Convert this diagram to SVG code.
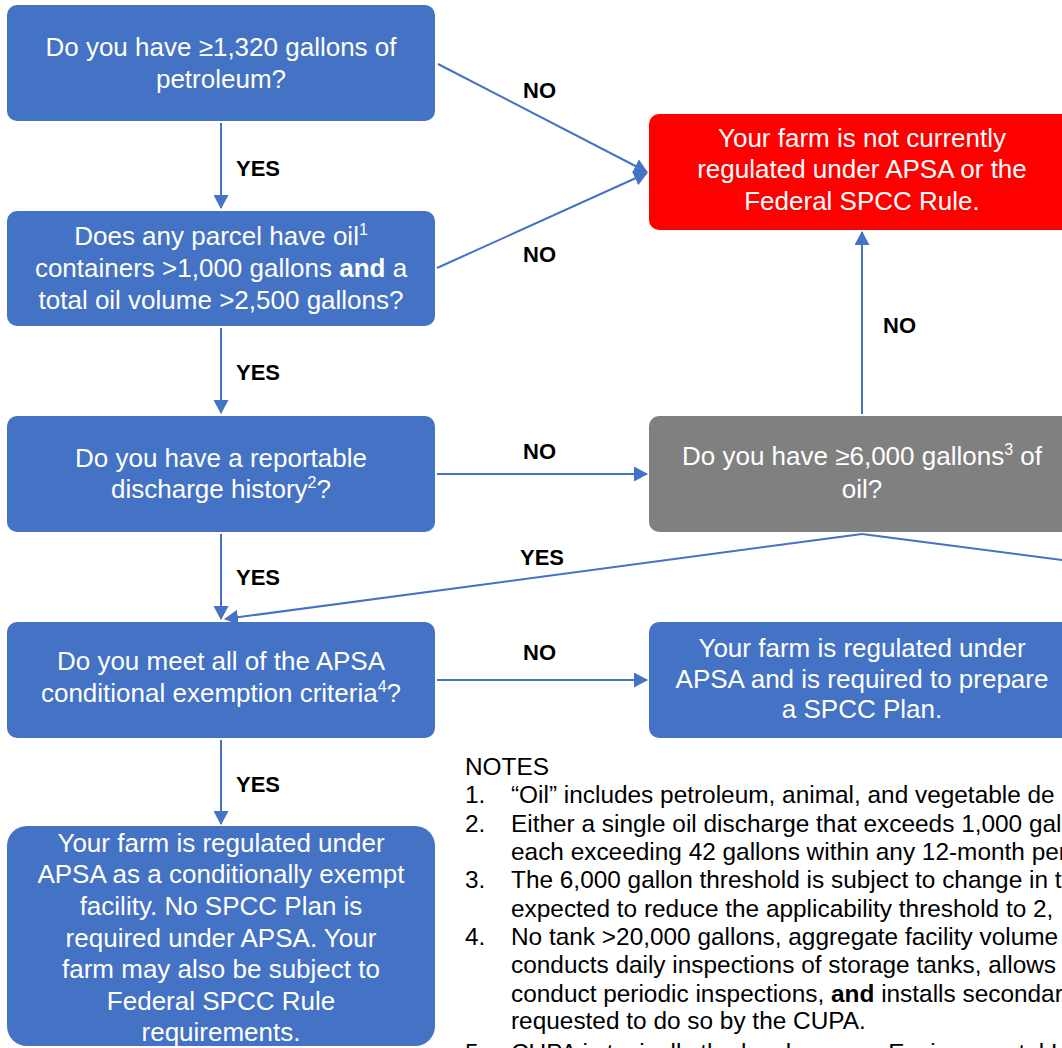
<svg xmlns="http://www.w3.org/2000/svg" width="1062" height="1048" viewBox="0 0 1062 1048">
<defs>
<marker id="arr" viewBox="0 0 14 15" refX="13" refY="7.5" markerWidth="14" markerHeight="15" markerUnits="userSpaceOnUse" orient="auto">
<path d="M0,0 L14,7.5 L0,15 z" fill="#4472C4"/>
</marker>
<style>
.box{fill:#4472C4;}
.red{fill:#FF0000;}
.gray{fill:#808080;}
.t{font-family:"Liberation Sans",Arial,sans-serif;font-size:26px;fill:#ffffff;text-anchor:middle;}
.lbl{font-family:"Liberation Sans",Arial,sans-serif;font-size:22px;font-weight:bold;fill:#000000;}
.note{font-family:"Liberation Sans",Arial,sans-serif;font-size:24.4px;fill:#000000;}
.c{stroke:#4472C4;stroke-width:2;fill:none;}
</style>
</defs>
<rect width="1062" height="1048" fill="#ffffff"/>

<g id="connectors">
<line class="c" x1="221" y1="123" x2="221" y2="208" marker-end="url(#arr)"/>
<line class="c" x1="221" y1="328" x2="221" y2="413" marker-end="url(#arr)"/>
<line class="c" x1="221" y1="534" x2="221" y2="619" marker-end="url(#arr)"/>
<line class="c" x1="221" y1="740" x2="221" y2="824" marker-end="url(#arr)"/>
<line class="c" x1="438" y1="64" x2="647" y2="172" marker-end="url(#arr)"/>
<line class="c" x1="437" y1="268" x2="647" y2="173" marker-end="url(#arr)"/>
<line class="c" x1="437" y1="474" x2="647" y2="474" marker-end="url(#arr)"/>
<line class="c" x1="862" y1="414" x2="862" y2="232" marker-end="url(#arr)"/>
<line class="c" x1="862" y1="534" x2="225" y2="619" marker-end="url(#arr)"/>
<line class="c" x1="862" y1="534" x2="1100" y2="565"/>
<line class="c" x1="437" y1="680" x2="647" y2="680" marker-end="url(#arr)"/>
<text class="lbl" x="236" y="176">YES</text>
<text class="lbl" x="236" y="380">YES</text>
<text class="lbl" x="236" y="585">YES</text>
<text class="lbl" x="236" y="792">YES</text>
<text class="lbl" x="523" y="98">NO</text>
<text class="lbl" x="523" y="262">NO</text>
<text class="lbl" x="523" y="459">NO</text>
<text class="lbl" x="523" y="660">NO</text>
<text class="lbl" x="883" y="333">NO</text>
<text class="lbl" x="520" y="565">YES</text>
</g>

<g id="q1">
<rect class="box" x="7" y="5" width="428" height="116" rx="10"/>
<text class="t" x="221" y="56">Do you have ≥1,320 gallons of</text>
<text class="t" x="221" y="88">petroleum?</text>
</g>

<g id="q2">
<rect class="box" x="7" y="211" width="428" height="115" rx="10"/>
<text class="t" x="221" y="245">Does any parcel have oil<tspan font-size="16" dy="-10">1</tspan></text>
<text class="t" x="221" y="277">containers &gt;1,000 gallons <tspan font-weight="bold">and</tspan> a</text>
<text class="t" x="221" y="309">total oil volume &gt;2,500 gallons?</text>
</g>

<g id="q3">
<rect class="box" x="7" y="416" width="428" height="116" rx="10"/>
<text class="t" x="221" y="467">Do you have a reportable</text>
<text class="t" x="221" y="498">discharge history<tspan font-size="16" dy="-10">2</tspan><tspan dy="10">?</tspan></text>
</g>

<g id="q4">
<rect class="box" x="7" y="622" width="428" height="116" rx="10"/>
<text class="t" x="221" y="670">Do you meet all of the APSA</text>
<text class="t" x="221" y="702">conditional exemption criteria<tspan font-size="16" dy="-10">4</tspan><tspan dy="10">?</tspan></text>
</g>

<g id="r-exempt">
<rect class="box" x="7" y="826" width="428" height="220" rx="20"/>
<text class="t" x="221" y="852">Your farm is regulated under</text>
<text class="t" x="221" y="883">APSA as a conditionally exempt</text>
<text class="t" x="221" y="915">facility. No SPCC Plan is</text>
<text class="t" x="221" y="947">required under APSA. Your</text>
<text class="t" x="221" y="978">farm may also be subject to</text>
<text class="t" x="221" y="1010">Federal SPCC Rule</text>
<text class="t" x="221" y="1041">requirements.</text>
</g>

<g id="r-not">
<rect class="red" x="649" y="114" width="428" height="116" rx="10"/>
<text class="t" x="862" y="147">Your farm is not currently</text>
<text class="t" x="862" y="178">regulated under APSA or the</text>
<text class="t" x="862" y="210">Federal SPCC Rule.</text>
</g>

<g id="q5">
<rect class="gray" x="649" y="416" width="428" height="116" rx="10"/>
<text class="t" x="862" y="465">Do you have ≥6,000 gallons<tspan font-size="16" dy="-10">3</tspan><tspan dy="10"> of</tspan></text>
<text class="t" x="862" y="498">oil?</text>
</g>

<g id="r-spcc">
<rect class="box" x="649" y="622" width="428" height="116" rx="10"/>
<text class="t" x="862" y="657">Your farm is regulated under</text>
<text class="t" x="862" y="688">APSA and is required to prepare</text>
<text class="t" x="862" y="718">a SPCC Plan.</text>
</g>

<g id="notes">
<text class="note" x="465" y="775" font-size="21">NOTES</text>
<text class="note" x="465" y="803">1.</text>
<text class="note" x="511" y="803">“Oil” includes petroleum, animal, and vegetable de</text>
<text class="note" x="465" y="832">2.</text>
<text class="note" x="511" y="832">Either a single oil discharge that exceeds 1,000 gallo</text>
<text class="note" x="511" y="860">each exceeding 42 gallons within any 12-month per</text>
<text class="note" x="465" y="888">3.</text>
<text class="note" x="511" y="888">The 6,000 gallon threshold is subject to change in t</text>
<text class="note" x="511" y="917">expected to reduce the applicability threshold to 2,</text>
<text class="note" x="465" y="945">4.</text>
<text class="note" x="511" y="945">No tank &gt;20,000 gallons, aggregate facility volume</text>
<text class="note" x="511" y="973">conducts daily inspections of storage tanks, allows</text>
<text class="note" x="511" y="1002">conduct periodic inspections, <tspan font-weight="bold">and</tspan> installs secondar</text>
<text class="note" x="511" y="1029">requested to do so by the CUPA.</text>
<text class="note" x="465" y="1061">5.</text>
<text class="note" x="511" y="1061">CUPA is typically the local agency, Environmental H</text>
</g>
</svg>
